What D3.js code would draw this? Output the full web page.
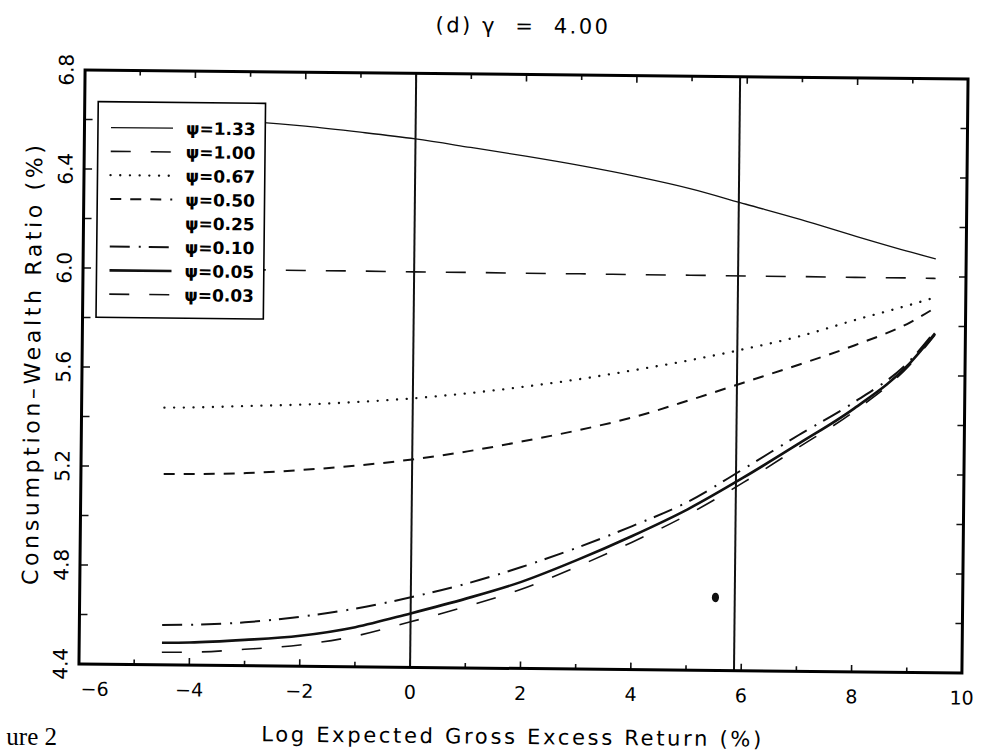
<!DOCTYPE html>
<html><head><meta charset="utf-8">
<script src="https://cdn.jsdelivr.net/npm/d3@7"></script>
<style>
html,body{margin:0;padding:0;background:#fff;}
svg{display:block;}
</style></head>
<body>
<svg id="chart" width="988" height="752"></svg>
<script>
// ---------------- data ----------------
const title = "(d) γ  =  4.00";
const xLabel = "Log Expected Gross Excess Return (%)";
const yLabel = "Consumption\u2013Wealth Ratio (%)";
const caption = "ure 2";   // visible part of the page caption, cut by the scan edge
const xValues = [-4.5, -4, -3, -2, -1, 0, 1, 2, 3, 4, 5, 6, 7, 8, 9, 9.45];
const psiLabels = ["1.33", "1.00", "0.67", "0.50", "0.25", "0.10", "0.05", "0.03"];
const psi133 = [6.612, 6.608, 6.598, 6.582, 6.560, 6.535, 6.503, 6.470, 6.434, 6.393, 6.345, 6.285, 6.225, 6.160, 6.098, 6.072];
const psi100 = [6.000, 6.000, 6.000, 5.999, 5.999, 5.998, 5.998, 5.997, 5.997, 5.996, 5.996, 5.995, 5.995, 5.994, 5.994, 5.993];
const psi067 = [5.439, 5.441, 5.449, 5.457, 5.470, 5.487, 5.510, 5.538, 5.571, 5.610, 5.652, 5.700, 5.754, 5.822, 5.886, 5.917];
const psi050 = [5.171, 5.172, 5.178, 5.193, 5.213, 5.240, 5.275, 5.318, 5.365, 5.420, 5.490, 5.565, 5.640, 5.720, 5.815, 5.875];
const psi025 = [];   // no visible curve in the reference
const psi010 = [4.561, 4.563, 4.575, 4.600, 4.635, 4.683, 4.740, 4.810, 4.890, 4.980, 5.080, 5.215, 5.355, 5.490, 5.660, 5.780];
const psi005 = [4.489, 4.491, 4.504, 4.523, 4.560, 4.618, 4.680, 4.750, 4.840, 4.940, 5.050, 5.180, 5.320, 5.465, 5.650, 5.771];
const psi003 = [4.451, 4.452, 4.466, 4.486, 4.524, 4.584, 4.648, 4.720, 4.813, 4.915, 5.028, 5.160, 5.305, 5.453, 5.643, 5.765];
const xTickLabels = [-6, -4, -2, 0, 2, 4, 6, 8, 10];
const yTickLabels = [4.4, 4.8, 5.2, 5.6, 6.0, 6.4, 6.8];
const verticalRefs = [0, 5.87];
const inkSpot = [{x: 5.52, y: 4.695}];

// ---------------- layout / styles ----------------
const seriesValues = [psi133, psi100, psi067, psi050, psi025, psi010, psi005, psi003];
const styles = {
  "1.33": {w: 1.3, dash: null, cap: "butt"},
  "1.00": {w: 1.6, dash: "20,20", cap: "butt"},
  "0.67": {w: 2.3, dash: "0.1,9.6", cap: "round"},
  "0.50": {w: 2.0, dash: "11,9", cap: "butt"},
  "0.25": null,
  "0.10": {w: 2.0, dash: "20,9,2,8", cap: "butt"},
  "0.05": {w: 2.6, dash: null, cap: "butt"},
  "0.03": {w: 1.6, dash: "20,20", cap: "butt"}
};
const F = {left: 82, right: 965, top: 74.5, bottom: 668.5};
const sans = "'DejaVu Sans', sans-serif";

const svg = d3.select("#chart");
svg.append("rect").attr("width", 988).attr("height", 752).attr("fill", "#fff");
const g = svg.append("g").attr("transform", "rotate(0.59,523,371)");

const x = d3.scaleLinear().domain([-6, 10]).range([F.left, F.right]);
const y = d3.scaleLinear().domain([4.4, 6.8]).range([F.bottom, F.top]);

g.append("clipPath").attr("id", "plotclip").append("rect")
  .attr("x", F.left).attr("y", F.top).attr("width", F.right - F.left).attr("height", F.bottom - F.top);

const plot = g.append("g").attr("clip-path", "url(#plotclip)");

const line = d3.line().x(d => x(d[0])).y(d => y(d[1])).curve(d3.curveMonotoneX);

psiLabels.forEach((lab, i) => {
  const vals = seriesValues[i];
  const st = styles[lab];
  if (!st || !vals.length) return;
  plot.append("path")
    .datum(vals.map((v, j) => [xValues[j], v]))
    .attr("d", line)
    .attr("fill", "none")
    .attr("stroke", "#111")
    .attr("stroke-width", st.w)
    .attr("stroke-linecap", st.cap)
    .attr("stroke-dasharray", st.dash);
});

// vertical reference lines
plot.selectAll("line.vref").data(verticalRefs).join("line")
  .attr("x1", d => x(d)).attr("x2", d => x(d))
  .attr("y1", F.top).attr("y2", F.bottom)
  .attr("stroke", "#111").attr("stroke-width", 2);

// ink spot
plot.selectAll("ellipse.spot").data(inkSpot).join("ellipse")
  .attr("cx", d => x(d.x)).attr("cy", d => y(d.y))
  .attr("rx", 3.6).attr("ry", 4.8).attr("fill", "#111");

// ticks
const xTickVals = d3.range(-6, 10.001, 1);
const yTickVals = d3.range(0, 13).map(i => +(4.4 + 0.2 * i).toFixed(1));
const ticks = g.append("g").attr("stroke", "#111").attr("stroke-width", 1.6);
xTickVals.forEach(v => {
  const len = (Math.round(v) % 2 === 0) ? 7 : 5;
  ticks.append("line").attr("x1", x(v)).attr("x2", x(v)).attr("y1", F.bottom).attr("y2", F.bottom - len);
  ticks.append("line").attr("x1", x(v)).attr("x2", x(v)).attr("y1", F.top).attr("y2", F.top + len);
});
yTickVals.forEach(v => {
  ticks.append("line").attr("y1", y(v)).attr("y2", y(v)).attr("x1", F.left).attr("x2", F.left + 8);
  ticks.append("line").attr("y1", y(v)).attr("y2", y(v)).attr("x1", F.right).attr("x2", F.right - 7);
});

// frame
g.append("rect").attr("x", F.left).attr("y", F.top)
  .attr("width", F.right - F.left).attr("height", F.bottom - F.top)
  .attr("fill", "none").attr("stroke", "#000").attr("stroke-width", 3);

// tick labels
g.selectAll("text.xt").data(xTickLabels).join("text")
  .attr("x", d => x(d) + (d === -6 ? 16 : 0)).attr("y", 700)
  .attr("text-anchor", "middle").attr("font-family", sans).attr("font-size", 19)
  .attr("fill", "#000")
  .text(d => d < 0 ? "\u2212" + Math.abs(d) : String(d));

g.selectAll("text.yt").data(yTickLabels).join("text")
  .attr("transform", d => `translate(70.5,${y(d)}) rotate(-90)`)
  .attr("text-anchor", "middle").attr("font-family", sans).attr("font-size", 20)
  .attr("fill", "#000")
  .text(d => d.toFixed(1));

// axis titles
g.append("text").attr("x", 515).attr("y", 744).attr("text-anchor", "middle")
  .attr("font-family", sans).attr("font-size", 21).attr("fill", "#000")
  .attr("textLength", 500).attr("lengthAdjust", "spacing")
  .text(xLabel);
g.append("text").attr("transform", "translate(40,370) rotate(-90)").attr("text-anchor", "middle")
  .attr("font-family", sans).attr("font-size", 22).attr("fill", "#000")
  .attr("textLength", 440).attr("lengthAdjust", "spacing")
  .text(yLabel);

// title
g.append("text").attr("x", 519.5).attr("y", 33).attr("text-anchor", "middle")
  .attr("font-family", sans).attr("font-size", 21).attr("letter-spacing", 2.5)
  .attr("fill", "#000").style("white-space", "pre")
  .text(title);

// legend
const L = {x: 95.5, y: 106, w: 167.3, h: 215.7, row0: 25.8, step: 23.8};
const leg = g.append("g");
leg.append("rect").attr("x", L.x).attr("y", L.y).attr("width", L.w).attr("height", L.h)
  .attr("fill", "#fff").attr("stroke", "#000").attr("stroke-width", 1.6);
psiLabels.forEach((lab, i) => {
  const cy = L.y + L.row0 + i * L.step;
  const st = styles[lab];
  if (st) {
    leg.append("line").attr("x1", L.x + 13).attr("x2", L.x + 75).attr("y1", cy).attr("y2", cy)
      .attr("stroke", "#111").attr("stroke-width", st.w)
      .attr("stroke-linecap", st.cap).attr("stroke-dasharray", st.dash);
  }
  leg.append("text").attr("x", L.x + 88).attr("y", cy + 6.2)
    .attr("font-family", sans).attr("font-size", 17).attr("font-weight", "bold")
    .attr("fill", "#000").text("ψ=" + lab);
});

// page caption fragment at the lower-left edge
svg.append("text").attr("x", 57).attr("y", 745).attr("text-anchor", "end")
  .attr("font-family", "'Liberation Serif', serif").attr("font-size", 25).attr("fill", "#000")
  .text(caption);
</script>
</body></html>
